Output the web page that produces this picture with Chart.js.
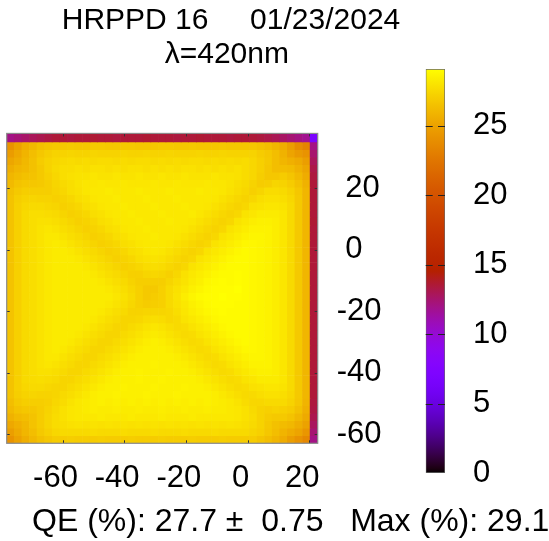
<!DOCTYPE html>
<html><head><meta charset="utf-8">
<script src="https://cdn.jsdelivr.net/npm/chart.js@4/dist/chart.umd.min.js"></script>
<style>
html,body{margin:0;padding:0;background:#fff;}
#wrap{position:relative;width:549px;height:541px;overflow:hidden;background:#fff;}
#heat{position:absolute;left:0;top:0;width:549px;height:541px;}
#cbar{position:absolute;left:400px;top:0;width:149px;height:541px;}
</style></head><body>
<div id="wrap"><canvas id="heat" width="549" height="541"></canvas><canvas id="cbar" width="149" height="541"></canvas></div>
<script>
// ---------------- text / ticks ----------------
const titleLines = ['HRPPD 16     01/23/2024', 'λ=420nm '];
const summaryText = 'QE (%): 27.7 ±  0.75   Max (%): 29.1';
const xTicks = [-60, -40, -20, 0, 20];
const yTicks = [-60, -40, -20, 0, 20];
const cbTicks = [0, 5, 10, 15, 20, 25];
const cbMax = 29.1;

// ---------------- scan grid (cell centres in x, cell edges in y, mm) ----------------
const xCells = [-76.87,-74.41,-71.95,-69.49,-67.03,-64.57,-62.11,-59.65,-57.19,-54.73,
  -52.27,-49.81,-47.35,-44.89,-42.43,-39.97,-37.51,-35.05,-32.59,-30.13,
  -27.67,-25.21,-22.75,-20.29,-17.83,-15.37,-12.91,-10.45,-7.99,-5.53,
  -3.07,-0.61,1.85,4.31,6.77,9.23,11.69,14.15,16.61,19.07, 21.53];
const yEdges = [37.9, 35.1, 32.65, 30.2, 27.75, 25.3, 22.85, 20.4, 17.95, 15.5, 13.05,
  10.6, 8.15, 5.7, 3.25, 0.8, -1.65, -4.1, -6.55, -9.0, -11.45,
  -13.9, -16.35, -18.8, -21.25, -23.7, -26.15, -28.6, -31.05, -33.5, -35.95,
  -38.4, -40.85, -43.3, -45.75, -48.2, -50.65, -53.1, -55.55, -58.0, -60.45, -62.9];

// ---------------- QE (%) rows, top to bottom; last value = right edge column ----------------
const qeEdge = [12.0,12.3,12.6,12.9,13.1,13.3,13.5,13.5,13.4,13.5,
  13.5,13.6,13.5,13.5,13.4,13.5,13.5,13.5,13.6,13.5,
  13.5,13.5,13.4,13.5,13.5,13.6,13.5,13.5,13.5,13.4,
  13.5,13.5,13.5,13.4,13.2,13.0,12.7,12.4,12.1,11.8, 6.8];
const qe00 = [24.2,25.0,25.7,26.1,26.5,26.7,26.8,26.8,26.9,26.8,
  26.8,26.9,26.9,26.8,26.8,26.9,26.9,26.8,26.8,26.8,
  26.9,26.9,26.8,26.8,26.9,26.8,26.8,26.8,26.9,26.8,
  26.8,26.8,26.8,26.6,26.4,26.0,25.5,24.8,23.9,23.3, 12.0];
const qe01 = [24.7,25.3,25.9,26.4,26.8,27.1,27.3,27.3,27.4,27.3,
  27.3,27.4,27.3,27.3,27.3,27.4,27.3,27.3,27.4,27.3,
  27.3,27.4,27.3,27.3,27.3,27.4,27.3,27.3,27.4,27.3,
  27.3,27.3,27.3,27.0,26.8,26.4,25.8,25.1,24.6,24.2, 12.5];
const qe02 = [25.2,25.6,26.1,26.5,27.0,27.3,27.5,27.6,27.7,27.6,
  27.7,27.6,27.7,27.7,27.6,27.7,27.6,27.7,27.7,27.6,
  27.7,27.6,27.7,27.6,27.7,27.7,27.6,27.7,27.6,27.7,
  27.6,27.7,27.5,27.2,26.9,26.4,26.0,25.7,25.4,24.8, 12.9];
const qe03 = [25.6,26.0,26.2,26.5,26.9,27.3,27.6,27.8,27.8,27.9,
  27.8,27.9,27.9,27.8,27.9,27.8,27.9,27.9,27.8,27.9,
  27.8,27.9,27.8,27.9,27.9,27.8,27.9,27.8,27.9,27.8,
  27.9,27.7,27.5,27.2,26.8,26.4,26.4,26.3,25.8,25.2, 13.2];
const qe04 = [26.0,26.3,26.5,26.6,26.9,27.2,27.5,27.8,27.9,28.0,
  28.0,28.1,28.0,28.0,28.1,28.0,28.0,28.1,28.0,28.0,
  28.1,28.0,28.0,28.1,28.0,28.0,28.0,28.1,28.0,28.0,
  27.9,27.7,27.5,27.1,26.8,26.8,27.0,26.7,26.2,25.5, 13.4];
const qe05 = [26.2,26.6,26.8,26.8,26.9,27.1,27.4,27.6,27.8,28.0,
  28.1,28.1,28.2,28.1,28.1,28.2,28.1,28.1,28.1,28.2,
  28.1,28.1,28.2,28.1,28.1,28.1,28.2,28.1,28.1,28.0,
  27.8,27.6,27.3,27.0,27.1,27.4,27.3,27.0,26.5,25.8, 13.5];
const qe06 = [26.5,26.9,27.1,27.1,27.1,27.1,27.3,27.5,27.8,27.9,
  28.1,28.2,28.2,28.3,28.2,28.2,28.2,28.3,28.2,28.2,
  28.2,28.3,28.2,28.2,28.2,28.3,28.2,28.2,28.1,27.9,
  27.7,27.5,27.2,27.4,27.7,27.7,27.6,27.3,26.8,26.0, 13.5];
const qe07 = [26.6,27.1,27.3,27.4,27.3,27.3,27.2,27.3,27.5,27.8,
  27.9,28.1,28.2,28.2,28.3,28.2,28.2,28.2,28.3,28.2,
  28.2,28.2,28.3,28.2,28.2,28.2,28.2,28.1,27.9,27.7,
  27.5,27.3,27.5,27.8,27.9,27.9,27.8,27.5,26.9,26.0, 13.5];
const qe08 = [26.6,27.2,27.5,27.6,27.6,27.5,27.4,27.2,27.3,27.5,
  27.8,27.9,28.1,28.2,28.2,28.3,28.2,28.2,28.2,28.3,
  28.2,28.2,28.2,28.3,28.2,28.2,28.1,27.9,27.7,27.5,
  27.3,27.5,27.9,28.0,28.1,28.1,28.0,27.6,26.9,26.0, 13.5];
const qe09 = [26.6,27.2,27.6,27.8,27.8,27.7,27.6,27.4,27.2,27.3,
  27.5,27.8,27.9,28.1,28.2,28.2,28.3,28.2,28.2,28.2,
  28.3,28.2,28.2,28.2,28.3,28.1,27.9,27.7,27.5,27.3,
  27.5,28.0,28.1,28.3,28.3,28.3,28.1,27.6,26.9,26.0, 13.5];
const qe10 = [26.6,27.2,27.6,27.8,27.9,27.9,27.8,27.6,27.4,27.2,
  27.3,27.5,27.8,27.9,28.1,28.2,28.2,28.3,28.2,28.2,
  28.2,28.3,28.2,28.2,28.1,27.9,27.7,27.5,27.3,27.5,
  28.0,28.2,28.4,28.5,28.5,28.4,28.1,27.6,26.9,26.0, 13.6];
const qe11 = [26.6,27.2,27.6,27.8,28.0,28.1,28.0,27.8,27.6,27.4,
  27.2,27.3,27.5,27.8,27.9,28.1,28.2,28.2,28.3,28.2,
  28.2,28.2,28.2,28.1,27.9,27.7,27.5,27.3,27.5,28.0,
  28.2,28.4,28.6,28.6,28.6,28.4,28.1,27.6,26.9,26.0, 13.5];
const qe12 = [26.6,27.2,27.6,27.8,28.0,28.2,28.2,28.0,27.8,27.6,
  27.4,27.2,27.3,27.5,27.8,27.9,28.1,28.2,28.2,28.3,
  28.2,28.2,28.1,27.9,27.7,27.5,27.3,27.5,28.0,28.2,
  28.4,28.6,28.7,28.7,28.6,28.4,28.1,27.6,26.9,26.0, 13.5];
const qe13 = [26.6,27.2,27.6,27.8,28.0,28.2,28.3,28.2,28.0,27.8,
  27.6,27.4,27.2,27.3,27.5,27.8,27.9,28.1,28.2,28.2,
  28.2,28.1,27.9,27.7,27.5,27.3,27.5,28.0,28.2,28.4,
  28.6,28.8,28.8,28.7,28.6,28.4,28.1,27.6,26.9,26.0, 13.5];
const qe14 = [26.6,27.2,27.6,27.8,28.0,28.2,28.3,28.3,28.2,28.0,
  27.8,27.6,27.4,27.2,27.3,27.5,27.8,27.9,28.1,28.2,
  28.1,27.9,27.7,27.5,27.3,27.5,28.0,28.2,28.4,28.6,
  28.8,28.9,28.8,28.7,28.6,28.4,28.1,27.6,26.9,26.0, 13.5];
const qe15 = [26.6,27.2,27.6,27.8,28.0,28.2,28.3,28.3,28.3,28.2,
  28.0,27.8,27.6,27.4,27.2,27.3,27.5,27.8,27.9,28.0,
  27.9,27.7,27.5,27.3,27.5,28.0,28.2,28.4,28.6,28.8,
  28.9,28.9,28.8,28.7,28.6,28.4,28.1,27.6,26.9,26.0, 13.5];
const qe16 = [26.6,27.2,27.6,27.8,28.0,28.2,28.3,28.3,28.3,28.3,
  28.2,28.0,27.8,27.6,27.4,27.2,27.3,27.5,27.7,27.8,
  27.7,27.5,27.3,27.5,28.0,28.2,28.4,28.6,28.8,28.9,
  28.9,28.9,28.8,28.7,28.6,28.4,28.1,27.6,26.9,26.0, 13.5];
const qe17 = [26.6,27.2,27.6,27.8,28.0,28.2,28.3,28.3,28.3,28.3,
  28.3,28.2,28.0,27.8,27.6,27.4,27.2,27.2,27.4,27.5,
  27.4,27.2,27.5,27.9,28.2,28.4,28.6,28.8,28.9,28.9,
  29.0,28.9,28.8,28.7,28.6,28.4,28.1,27.6,26.9,26.0, 13.5];
const qe18 = [26.6,27.2,27.6,27.8,28.0,28.2,28.3,28.3,28.3,28.3,
  28.3,28.3,28.2,28.0,27.8,27.6,27.3,27.1,27.1,27.1,
  27.1,27.4,27.7,28.0,28.3,28.5,28.8,28.9,29.0,28.9,
  29.0,28.9,28.8,28.7,28.6,28.4,28.1,27.6,26.9,26.0, 13.5];
const qe19 = [26.6,27.2,27.6,27.8,28.0,28.2,28.3,28.3,28.3,28.3,
  28.3,28.3,28.3,28.2,28.0,27.8,27.5,27.2,26.9,26.9,
  27.2,27.6,27.9,28.2,28.5,28.7,28.9,29.0,29.0,29.0,
  29.1,28.9,28.8,28.7,28.6,28.4,28.1,27.6,26.9,26.0, 13.5];
const qe20 = [26.6,27.2,27.6,27.8,28.0,28.2,28.3,28.3,28.3,28.3,
  28.3,28.3,28.3,28.3,28.1,27.9,27.6,27.2,26.9,27.0,
  27.2,27.6,28.0,28.4,28.7,28.9,29.0,29.0,29.1,29.0,
  29.0,28.9,28.8,28.7,28.6,28.4,28.1,27.6,26.9,26.0, 13.5];
const qe21 = [26.6,27.2,27.6,27.8,28.0,28.2,28.3,28.3,28.3,28.3,
  28.3,28.3,28.3,28.2,28.0,27.8,27.5,27.2,27.0,27.1,
  27.2,27.6,27.9,28.2,28.5,28.7,28.9,29.0,29.0,29.0,
  28.9,28.9,28.8,28.7,28.6,28.4,28.1,27.6,26.9,26.0, 13.5];
const qe22 = [26.6,27.2,27.6,27.8,28.0,28.2,28.3,28.3,28.3,28.3,
  28.3,28.3,28.2,28.0,27.8,27.6,27.3,27.3,27.4,27.4,
  27.4,27.5,27.8,28.1,28.4,28.6,28.8,28.9,29.0,28.9,
  28.9,28.9,28.8,28.7,28.6,28.4,28.1,27.6,26.9,26.0, 13.5];
const qe23 = [26.6,27.2,27.6,27.8,28.0,28.2,28.3,28.3,28.3,28.3,
  28.3,28.2,28.0,27.8,27.6,27.4,27.4,27.5,27.7,27.8,
  27.7,27.5,27.6,28.0,28.2,28.4,28.6,28.8,28.9,28.9,
  28.9,28.9,28.8,28.7,28.6,28.4,28.1,27.6,26.9,26.0, 13.5];
const qe24 = [26.6,27.2,27.6,27.8,28.0,28.2,28.3,28.3,28.3,28.3,
  28.2,28.0,27.8,27.6,27.4,27.4,27.6,27.8,28.0,28.1,
  28.0,27.8,27.6,27.7,28.0,28.2,28.4,28.6,28.8,28.9,
  28.9,28.9,28.8,28.7,28.6,28.4,28.1,27.6,26.9,26.0, 13.5];
const qe25 = [26.6,27.2,27.6,27.8,28.0,28.2,28.3,28.3,28.3,28.2,
  28.0,27.8,27.6,27.4,27.4,27.6,27.8,28.0,28.2,28.3,
  28.2,28.0,27.8,27.6,27.7,28.0,28.2,28.4,28.6,28.8,
  28.9,28.9,28.8,28.7,28.6,28.4,28.1,27.6,26.9,26.0, 13.5];
const qe26 = [26.6,27.2,27.6,27.8,28.0,28.2,28.3,28.3,28.2,28.0,
  27.8,27.6,27.4,27.4,27.6,27.8,28.0,28.2,28.4,28.5,
  28.4,28.2,28.0,27.8,27.6,27.7,28.0,28.2,28.4,28.6,
  28.8,28.9,28.8,28.7,28.6,28.4,28.1,27.6,26.9,26.0, 13.5];
const qe27 = [26.6,27.2,27.6,27.8,28.0,28.2,28.3,28.2,28.0,27.8,
  27.6,27.4,27.4,27.6,27.8,28.0,28.2,28.4,28.5,28.5,
  28.5,28.4,28.2,28.0,27.8,27.6,27.7,28.0,28.2,28.4,
  28.6,28.8,28.8,28.7,28.6,28.4,28.1,27.6,26.9,26.0, 13.5];
const qe28 = [26.6,27.2,27.6,27.8,28.0,28.2,28.2,28.0,27.8,27.6,
  27.4,27.4,27.6,27.8,28.0,28.2,28.4,28.5,28.5,28.5,
  28.5,28.5,28.4,28.2,28.0,27.8,27.6,27.7,28.0,28.2,
  28.4,28.6,28.7,28.7,28.6,28.4,28.1,27.6,26.9,26.0, 13.5];
const qe29 = [26.6,27.2,27.6,27.8,28.0,28.1,28.0,27.8,27.6,27.4,
  27.4,27.6,27.8,28.0,28.2,28.4,28.5,28.5,28.5,28.6,
  28.5,28.5,28.5,28.4,28.2,28.0,27.8,27.6,27.7,28.0,
  28.2,28.4,28.6,28.6,28.6,28.4,28.1,27.6,26.9,26.0, 13.5];
const qe30 = [26.6,27.2,27.6,27.8,27.9,27.9,27.8,27.6,27.4,27.4,
  27.6,27.8,28.0,28.2,28.4,28.5,28.5,28.6,28.5,28.5,
  28.5,28.6,28.5,28.5,28.4,28.2,28.0,27.8,27.6,27.7,
  28.0,28.2,28.4,28.5,28.5,28.4,28.1,27.6,26.9,26.0, 13.5];
const qe31 = [26.6,27.2,27.6,27.7,27.8,27.7,27.6,27.4,27.4,27.6,
  27.8,28.0,28.2,28.4,28.5,28.5,28.5,28.6,28.5,28.5,
  28.6,28.5,28.5,28.5,28.5,28.4,28.2,28.0,27.8,27.6,
  27.7,28.0,28.1,28.3,28.3,28.3,28.1,27.6,26.9,26.0, 13.5];
const qe32 = [26.6,27.2,27.5,27.6,27.6,27.5,27.4,27.4,27.6,27.8,
  28.0,28.2,28.4,28.5,28.5,28.6,28.5,28.5,28.5,28.6,
  28.5,28.5,28.5,28.6,28.5,28.5,28.4,28.2,28.0,27.8,
  27.6,27.7,27.9,28.0,28.1,28.1,28.0,27.6,26.9,26.0, 13.5];
const qe33 = [26.6,27.1,27.3,27.4,27.3,27.3,27.4,27.6,27.8,28.0,
  28.2,28.4,28.5,28.5,28.6,28.5,28.5,28.5,28.6,28.5,
  28.5,28.5,28.6,28.5,28.5,28.5,28.5,28.4,28.2,28.0,
  27.8,27.6,27.6,27.8,27.9,27.9,27.8,27.5,26.9,26.0, 13.5];
const qe34 = [26.4,26.9,27.1,27.1,27.1,27.2,27.5,27.7,28.0,28.2,
  28.3,28.4,28.5,28.4,28.5,28.4,28.5,28.4,28.5,28.4,
  28.5,28.4,28.5,28.4,28.5,28.4,28.5,28.4,28.3,28.2,
  28.0,27.7,27.5,27.5,27.6,27.6,27.6,27.3,26.8,25.9, 13.4];
const qe35 = [26.2,26.6,26.8,26.8,27.0,27.3,27.6,27.9,28.1,28.2,
  28.3,28.4,28.3,28.3,28.4,28.3,28.3,28.4,28.3,28.3,
  28.4,28.3,28.3,28.4,28.3,28.3,28.4,28.3,28.3,28.2,
  28.1,27.9,27.6,27.3,27.2,27.3,27.2,27.0,26.5,25.7, 13.3];
const qe36 = [25.8,26.2,26.4,26.6,27.0,27.4,27.7,27.9,28.1,28.2,
  28.2,28.2,28.3,28.2,28.2,28.2,28.3,28.2,28.2,28.2,
  28.3,28.2,28.2,28.2,28.3,28.2,28.2,28.2,28.2,28.2,
  28.1,27.9,27.7,27.3,27.0,26.9,26.9,26.6,26.1,25.4, 13.1];
const qe37 = [25.3,25.7,26.1,26.6,27.0,27.4,27.7,27.8,27.9,28.0,
  27.9,28.0,27.9,28.0,27.9,28.0,27.9,28.0,27.9,28.0,
  27.9,28.0,27.9,28.0,27.9,28.0,27.9,28.0,27.9,28.0,
  27.9,27.8,27.6,27.3,26.9,26.5,26.3,26.1,25.6,25.0, 12.8];
const qe38 = [24.8,25.4,26.0,26.4,26.9,27.2,27.5,27.6,27.6,27.6,
  27.6,27.7,27.6,27.6,27.6,27.7,27.6,27.6,27.6,27.7,
  27.6,27.6,27.6,27.7,27.6,27.6,27.6,27.7,27.6,27.6,
  27.6,27.6,27.4,27.2,26.8,26.4,25.9,25.5,25.1,24.4, 12.4];
const qe39 = [24.2,25.0,25.6,26.1,26.5,26.8,27.0,27.0,27.1,27.0,
  27.0,27.0,27.1,27.0,27.0,27.0,27.1,27.0,27.0,27.0,
  27.1,27.0,27.0,27.0,27.1,27.0,27.0,27.0,27.1,27.0,
  27.0,27.0,27.0,26.7,26.4,26.0,25.5,24.8,24.2,23.6, 12.0];

const qeRows = [qeEdge, qe00, qe01, qe02, qe03, qe04, qe05, qe06, qe07, qe08, qe09,
  qe10, qe11, qe12, qe13, qe14, qe15, qe16, qe17, qe18, qe19,
  qe20, qe21, qe22, qe23, qe24, qe25, qe26, qe27, qe28, qe29,
  qe30, qe31, qe32, qe33, qe34, qe35, qe36, qe37, qe38, qe39];

// ---------------- styling ----------------
const FONT = "'Liberation Sans', Arial, Helvetica, sans-serif";
Chart.defaults.font.family = FONT;
Chart.defaults.font.size = 31;
Chart.defaults.color = '#000';

// gnuplot rgbformulae 7,5,15
function palette(v) {
  const t = Math.max(0, Math.min(1, v / cbMax));
  const r = Math.sqrt(t), g = t * t * t, b = Math.max(0, Math.sin(2 * Math.PI * t));
  return 'rgb(' + Math.round(r * 255) + ',' + Math.round(g * 255) + ',' + Math.round(b * 255) + ')';
}

const heatDatasets = qeRows.map((row, k) => ({
  data: row.map((v, i) => ({ x: xCells[i], y: [yEdges[k + 1], yEdges[k]], qe: v })),
  backgroundColor: row.map(v => palette(v)),
  borderWidth: 0,
  grouped: false,
  barPercentage: 1,
  categoryPercentage: 1
}));

const framePlugin = {
  id: 'frame',
  afterDatasetsDraw(chart) {
    const { ctx, chartArea: a, scales: { x, y } } = chart;
    ctx.save();
    ctx.strokeStyle = '#333';
    ctx.lineWidth = 1;
    ctx.beginPath();
    xTicks.forEach(v => {
      const px = Math.round(x.getPixelForValue(v)) + 0.5;
      ctx.moveTo(px, a.bottom); ctx.lineTo(px, a.bottom - 3);
      ctx.moveTo(px, a.top); ctx.lineTo(px, a.top + 3);
    });
    yTicks.forEach(v => {
      const py = Math.round(y.getPixelForValue(v)) + 0.5;
      ctx.moveTo(a.right, py); ctx.lineTo(a.right - 3, py);
      ctx.moveTo(a.left, py); ctx.lineTo(a.left + 3, py);
    });
    ctx.stroke();
    ctx.strokeStyle = '#8a8a8a';
    ctx.lineWidth = 1.2;
    ctx.strokeRect(a.left, a.top, a.right - a.left, a.bottom - a.top);
    ctx.restore();
  },
  afterDraw(chart) {
    const ctx = chart.ctx;
    ctx.save();
    ctx.font = '32px ' + FONT;
    ctx.fillStyle = '#000';
    ctx.textAlign = 'left';
    ctx.textBaseline = 'alphabetic';
    ctx.fillText(summaryText, 32, 531);
    ctx.restore();
  }
};

new Chart(document.getElementById('heat'), {
  type: 'bar',
  data: { datasets: heatDatasets },
  options: {
    responsive: false,
    animation: false,
    events: [],
    layout: { padding: { left: 6.7, right: 93.7, top: 0, bottom: 42.7 } },
    plugins: {
      legend: { display: false },
      tooltip: { enabled: false },
      title: {
        display: true, text: titleLines, color: '#000',
        font: { family: FONT, size: 30, weight: 'normal', lineHeight: 1.143 },
        padding: { top: 3.15, bottom: 61.7 }
      }
    },
    scales: {
      x: {
        type: 'linear', min: -78.1, max: 22.76, offset: false,
        grid: { display: false, drawTicks: false }, border: { display: false },
        afterBuildTicks: s => { s.ticks = xTicks.map(v => ({ value: v })); },
        afterFit: s => { s.height = 55; },
        ticks: { padding: 16.5, labelOffset: -7, maxRotation: 0, autoSkip: false, callback: v => String(v) }
      },
      y: {
        type: 'linear', position: 'right', min: -62.9, max: 37.9,
        grid: { display: false, drawTicks: false }, border: { display: false },
        afterBuildTicks: s => { s.ticks = yTicks.map(v => ({ value: v })); },
        afterFit: s => { s.width = 137.6; },
        ticks: { padding: 19, autoSkip: false, callback: v => (v < 0 ? '' : ' ') + v }
      }
    }
  },
  plugins: [framePlugin]
});

// ---------------- colour bar ----------------
const cbTickPlugin = {
  id: 'cbTicks',
  afterDatasetsDraw(chart) {
    const { ctx, chartArea: a, scales: { y } } = chart;
    ctx.save();
    ctx.strokeStyle = '#222';
    ctx.lineWidth = 1;
    ctx.beginPath();
    cbTicks.forEach(v => {
      if (v <= 0) return;
      const py = Math.round(y.getPixelForValue(v)) + 0.5;
      ctx.moveTo(a.left, py); ctx.lineTo(a.left + 7, py);
      ctx.moveTo(a.right - 7, py); ctx.lineTo(a.right, py);
    });
    ctx.stroke();
    ctx.restore();
  }
};

new Chart(document.getElementById('cbar'), {
  type: 'bar',
  data: {
    labels: [''],
    datasets: [{
      data: [[0, cbMax]],
      backgroundColor: c => {
        const ch = c.chart;
        if (!ch.chartArea) return 'rgba(0,0,0,0)';
        const y = ch.scales.y;
        const g = ch.ctx.createLinearGradient(0, y.getPixelForValue(0), 0, y.getPixelForValue(cbMax));
        for (let k = 0; k <= 100; k++) g.addColorStop(k / 100, palette(cbMax * k / 100));
        return g;
      },
      borderColor: '#6a6a6a',
      borderWidth: 1,
      borderSkipped: false,
      barPercentage: 1,
      categoryPercentage: 1
    }]
  },
  options: {
    responsive: false,
    animation: false,
    events: [],
    layout: { padding: { left: 25.7, right: 0, top: 69, bottom: 68 } },
    plugins: { legend: { display: false }, tooltip: { enabled: false }, title: { display: false } },
    scales: {
      x: { display: false },
      y: {
        position: 'right', min: 0, max: cbMax,
        grid: { display: false, drawTicks: false }, border: { display: false },
        afterBuildTicks: s => { s.ticks = cbTicks.map(v => ({ value: v })); },
        afterFit: s => { s.width = 104; },
        ticks: { padding: 19.5, autoSkip: false, callback: v => ' ' + v }
      }
    }
  },
  plugins: [cbTickPlugin]
});
</script>
</body></html>
